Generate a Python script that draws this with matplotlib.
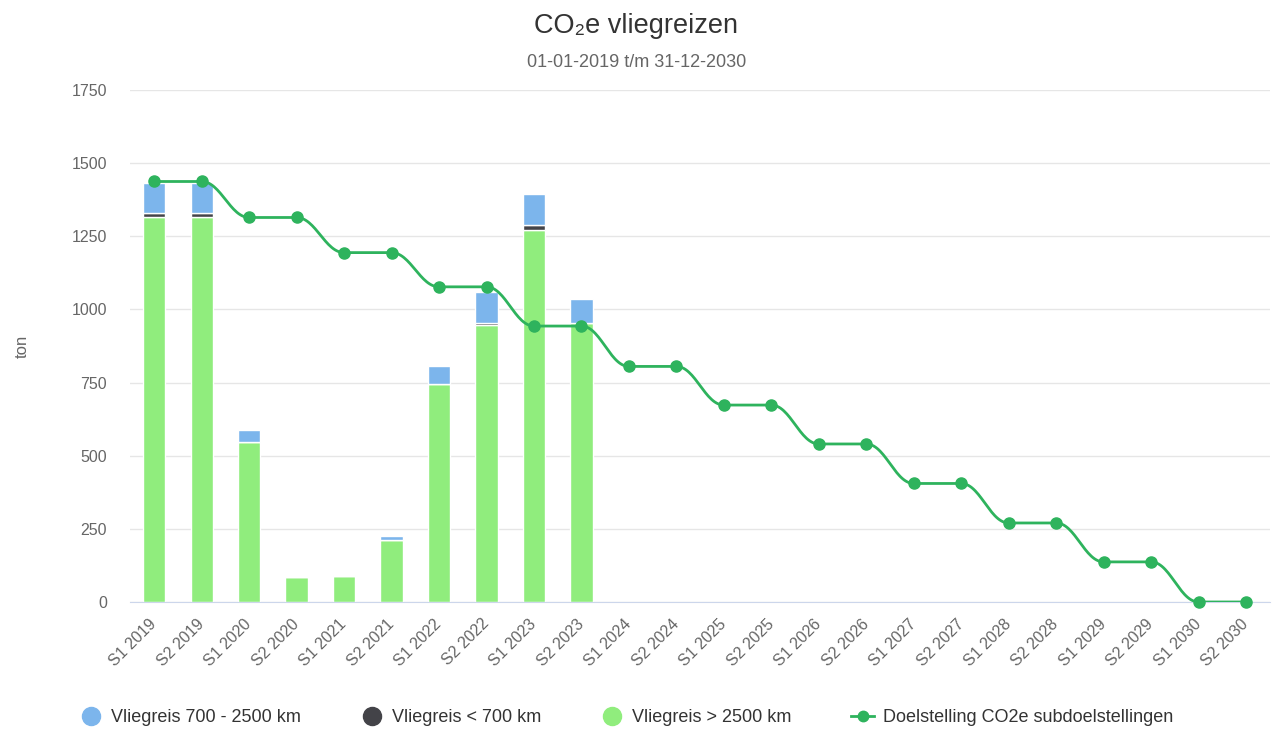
import matplotlib
matplotlib.use("Agg")
import matplotlib.pyplot as plt
from matplotlib.lines import Line2D
import numpy as np

categories = [f"S{h} {y}" for y in range(2019, 2031) for h in (1, 2)]
far = [1315, 1315, 547, 85, 90, 211, 746, 947, 1271, 952] + [0] * 14        # > 2500 km
short = [16, 16, 0, 0, 0, 0, 0, 6, 16, 0] + [0] * 14                         # < 700 km
mid = [101, 101, 41, 0, 3, 15, 62, 107, 106, 85] + [0] * 14                   # 700 - 2500 km
target = [1437, 1437, 1314, 1314, 1194, 1194, 1077, 1077, 943, 943, 805, 805,
          673, 673, 540, 540, 405, 405, 270, 270, 137, 137, 0, 0]

C_MID = "#7cb5ec"
C_SHORT = "#434348"
C_FAR = "#90ed7d"
C_LINE = "#2eb35d"

plt.rcParams['font.family'] = ['Liberation Sans', 'DejaVu Sans']

fig = plt.figure(figsize=(12.73, 7.31), dpi=100)
ax = fig.add_axes([0.1025, 0.1765, 0.895, 0.7005])

x = np.arange(len(categories))
w = 0.47
far_a = np.array(far, float)
short_a = np.array(short, float)
mid_a = np.array(mid, float)
ax.bar(x, far_a, w, color=C_FAR, edgecolor="white", linewidth=1, zorder=2)
ax.bar(x, short_a, w, bottom=far_a, color=C_SHORT, edgecolor="white", linewidth=1, zorder=2)
ax.bar(x, mid_a, w, bottom=far_a + short_a, color=C_MID, edgecolor="white", linewidth=1, zorder=2)


def hc_spline(xs, ys, smoothing=1.5, n=30):
    xs = np.asarray(xs, float)
    ys = np.asarray(ys, float)
    m = len(xs)
    lc = np.zeros((m, 2))
    rc = np.zeros((m, 2))
    denom = smoothing + 1
    for i in range(m):
        px, py = xs[i], ys[i]
        if i == 0 or i == m - 1:
            lc[i] = rc[i] = (px, py)
            continue
        lx, ly = xs[i - 1], ys[i - 1]
        nx, ny = xs[i + 1], ys[i + 1]
        lcx = (smoothing * px + lx) / denom
        lcy = (smoothing * py + ly) / denom
        rcx = (smoothing * px + nx) / denom
        rcy = (smoothing * py + ny) / denom
        corr = 0
        if rcx != lcx:
            corr = (rcy - lcy) * (rcx - px) / (rcx - lcx) + py - rcy
        lcy += corr
        rcy += corr
        if lcy > ly and lcy > py:
            lcy = max(ly, py); rcy = 2 * py - lcy
        elif lcy < ly and lcy < py:
            lcy = min(ly, py); rcy = 2 * py - lcy
        if rcy > ny and rcy > py:
            rcy = max(ny, py); lcy = 2 * py - rcy
        elif rcy < ny and rcy < py:
            rcy = min(ny, py); lcy = 2 * py - rcy
        lc[i] = (lcx, lcy)
        rc[i] = (rcx, rcy)
    t = np.linspace(0, 1, n)[:, None]
    out = []
    for i in range(1, m):
        p0 = np.array([xs[i - 1], ys[i - 1]])
        p1 = rc[i - 1]
        p2 = lc[i]
        p3 = np.array([xs[i], ys[i]])
        seg = (1 - t) ** 3 * p0 + 3 * (1 - t) ** 2 * t * p1 + 3 * (1 - t) * t ** 2 * p2 + t ** 3 * p3
        out.append(seg if i == 1 else seg[1:])
    out = np.vstack(out)
    return out[:, 0], out[:, 1]


sx, sy = hc_spline(x, target)
ax.plot(sx, sy, color=C_LINE, linewidth=2, zorder=3, solid_capstyle='round')
ax.plot(x, target, linestyle='none', marker='o', markersize=8, color=C_LINE, zorder=4,
        clip_on=False)

ax.set_xlim(-0.5, len(categories) - 0.5)
ax.set_ylim(0, 1750)
ax.set_yticks([0, 250, 500, 750, 1000, 1250, 1500, 1750])
ax.yaxis.grid(True, color="#e6e6e6", linewidth=1)
ax.set_axisbelow(True)
for s in ("top", "right", "left"):
    ax.spines[s].set_visible(False)
ax.spines["bottom"].set_color("#ccd6eb")
ax.tick_params(axis="y", length=0, labelsize=11.5, labelcolor="#666666", pad=17)
ax.tick_params(axis="x", length=0, labelsize=11.5, labelcolor="#666666", pad=14)
ax.set_xticks(x)
ax.set_xticklabels(categories, rotation=45, ha="right", va="center", rotation_mode="anchor")
ax.set_ylabel("ton", color="#666666", fontsize=12, labelpad=30)

fig.text(0.5, 0.965, "CO₂e vliegreizen", ha="center", va="center", fontsize=19.5, color="#333333")
fig.text(0.5, 0.915, "01-01-2019 t/m 31-12-2030", ha="center", va="center", fontsize=13, color="#666666")

handles = [
    Line2D([], [], linestyle='none', marker='o', markersize=13, color=C_MID),
    Line2D([], [], linestyle='none', marker='o', markersize=13, color=C_SHORT),
    Line2D([], [], linestyle='none', marker='o', markersize=13, color=C_FAR),
    Line2D([], [], color=C_LINE, linewidth=2, marker='o', markersize=7.5),
]
labels = ["Vliegreis 700 - 2500 km", "Vliegreis < 700 km", "Vliegreis > 2500 km",
          "Doelstelling CO2e subdoelstellingen"]
fig.legend(handles, labels, loc="center", bbox_to_anchor=(0.492, 0.018), ncol=4, frameon=False,
           fontsize=13, labelcolor="#333333", columnspacing=3.3, handletextpad=0.5,
           handlelength=1.25)

fig.savefig("out.png", dpi=100, facecolor="white")
